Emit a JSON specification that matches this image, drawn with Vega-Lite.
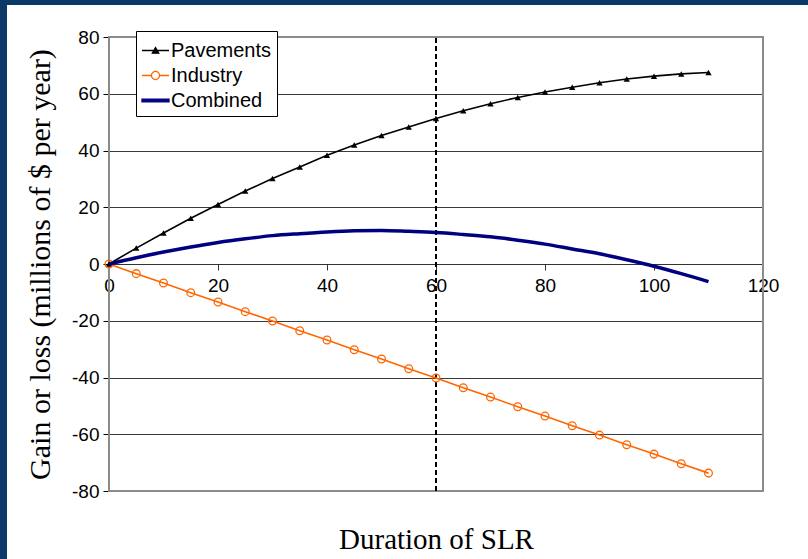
{
  "$schema": "https://vega.github.io/schema/vega-lite/v6.json",
  "width": 801,
  "height": 554,
  "autosize": {"type": "none"},
  "padding": {"left": 7, "top": 5, "right": 0, "bottom": 0},
  "background": "#0c3a68",
  "view": {"fill": "#ffffff", "stroke": null},
  "config": {
    "font": "Liberation Sans"
  },
  "data": {
    "values": [
      {"x": 0, "series": "Pavements", "value": 0},
      {"x": 5, "series": "Pavements", "value": 5.6},
      {"x": 10, "series": "Pavements", "value": 10.9},
      {"x": 15, "series": "Pavements", "value": 16.1},
      {"x": 20, "series": "Pavements", "value": 21},
      {"x": 25, "series": "Pavements", "value": 25.7},
      {"x": 30, "series": "Pavements", "value": 30.1},
      {"x": 35, "series": "Pavements", "value": 34.2},
      {"x": 40, "series": "Pavements", "value": 38.3},
      {"x": 45, "series": "Pavements", "value": 41.9},
      {"x": 50, "series": "Pavements", "value": 45.3},
      {"x": 55, "series": "Pavements", "value": 48.3},
      {"x": 60, "series": "Pavements", "value": 51.3},
      {"x": 65, "series": "Pavements", "value": 54},
      {"x": 70, "series": "Pavements", "value": 56.5},
      {"x": 75, "series": "Pavements", "value": 58.7},
      {"x": 80, "series": "Pavements", "value": 60.6},
      {"x": 85, "series": "Pavements", "value": 62.3},
      {"x": 90, "series": "Pavements", "value": 63.9},
      {"x": 95, "series": "Pavements", "value": 65.2},
      {"x": 100, "series": "Pavements", "value": 66.2},
      {"x": 105, "series": "Pavements", "value": 67},
      {"x": 110, "series": "Pavements", "value": 67.5},
      {"x": 0, "series": "Industry", "value": 0},
      {"x": 5, "series": "Industry", "value": -3.4},
      {"x": 10, "series": "Industry", "value": -6.7},
      {"x": 15, "series": "Industry", "value": -10.1},
      {"x": 20, "series": "Industry", "value": -13.4},
      {"x": 25, "series": "Industry", "value": -16.8},
      {"x": 30, "series": "Industry", "value": -20.1},
      {"x": 35, "series": "Industry", "value": -23.5},
      {"x": 40, "series": "Industry", "value": -26.8},
      {"x": 45, "series": "Industry", "value": -30.2},
      {"x": 50, "series": "Industry", "value": -33.5},
      {"x": 55, "series": "Industry", "value": -36.9},
      {"x": 60, "series": "Industry", "value": -40.2},
      {"x": 65, "series": "Industry", "value": -43.6},
      {"x": 70, "series": "Industry", "value": -46.9},
      {"x": 75, "series": "Industry", "value": -50.3},
      {"x": 80, "series": "Industry", "value": -53.6},
      {"x": 85, "series": "Industry", "value": -57},
      {"x": 90, "series": "Industry", "value": -60.3},
      {"x": 95, "series": "Industry", "value": -63.7},
      {"x": 100, "series": "Industry", "value": -67},
      {"x": 105, "series": "Industry", "value": -70.4},
      {"x": 110, "series": "Industry", "value": -73.7},
      {"x": 0, "series": "Combined", "value": 0},
      {"x": 5, "series": "Combined", "value": 2.2},
      {"x": 10, "series": "Combined", "value": 4.2},
      {"x": 15, "series": "Combined", "value": 6},
      {"x": 20, "series": "Combined", "value": 7.6},
      {"x": 25, "series": "Combined", "value": 8.9},
      {"x": 30, "series": "Combined", "value": 10},
      {"x": 35, "series": "Combined", "value": 10.7},
      {"x": 40, "series": "Combined", "value": 11.3},
      {"x": 45, "series": "Combined", "value": 11.7},
      {"x": 50, "series": "Combined", "value": 11.8},
      {"x": 55, "series": "Combined", "value": 11.5},
      {"x": 60, "series": "Combined", "value": 11.1},
      {"x": 65, "series": "Combined", "value": 10.4},
      {"x": 70, "series": "Combined", "value": 9.6},
      {"x": 75, "series": "Combined", "value": 8.4},
      {"x": 80, "series": "Combined", "value": 7},
      {"x": 85, "series": "Combined", "value": 5.3},
      {"x": 90, "series": "Combined", "value": 3.6},
      {"x": 95, "series": "Combined", "value": 1.5},
      {"x": 100, "series": "Combined", "value": -0.8},
      {"x": 105, "series": "Combined", "value": -3.4},
      {"x": 110, "series": "Combined", "value": -6.2}
    ]
  },
  "encoding": {
    "x": {
      "field": "x",
      "type": "quantitative",
      "scale": {"domain": [0, 120], "range": [102, 756], "nice": false, "zero": false},
      "axis": {
        "orient": "bottom",
        "offset": -295,
        "values": [0, 20, 40, 60, 80, 100, 120],
        "grid": false,
        "domainColor": "#333333",
        "domainWidth": 1,
        "tickColor": "#333333",
        "tickSize": 6,
        "labelFont": "Liberation Sans",
        "labelFontSize": 19,
        "labelColor": "#000000",
        "labelPadding": 6,
        "labelFlush": false,
        "labelOverlap": false,
        "title": "Duration of SLR",
        "titleFont": "Liberation Serif",
        "titleFontSize": 29,
        "titleFontWeight": "normal",
        "titleColor": "#000000",
        "titleX": 429,
        "titleY": 284,
        "titleAlign": "center",
        "titleBaseline": "alphabetic"
      }
    },
    "y": {
      "field": "value",
      "type": "quantitative",
      "scale": {"domain": [-80, 80], "range": [486, 32], "nice": false, "zero": false},
      "axis": {
        "orient": "left",
        "offset": -102,
        "values": [-80, -60, -40, -20, 0, 20, 40, 60, 80],
        "labelExpr": "datum.value < 0 ? '-' + abs(datum.value) : '' + datum.value",
        "grid": true,
        "gridColor": "#3a3a3a",
        "gridWidth": 1,
        "domainColor": "#000000",
        "domainWidth": 1,
        "tickColor": "#000000",
        "tickSize": 6,
        "labelFont": "Liberation Sans",
        "labelFontSize": 19,
        "labelColor": "#000000",
        "labelPadding": 4,
        "labelOverlap": false,
        "title": "Gain or loss (millions of $ per year)",
        "titleFont": "Liberation Serif",
        "titleFontSize": 30,
        "titleFontWeight": "normal",
        "titleColor": "#000000",
        "titleAngle": -90,
        "titleX": -69,
        "titleY": 259,
        "titleAlign": "center",
        "titleBaseline": "middle"
      }
    }
  },
  "layer": [
    {
      "mark": {"type": "rect", "fill": null, "stroke": "#8c8c8c", "strokeWidth": 1.2},
      "encoding": {
        "x": {"datum": 0},
        "x2": {"datum": 120},
        "y": {"datum": -80},
        "y2": {"datum": 80}
      }
    },
    {
      "mark": {"type": "rule", "color": "#000000", "strokeWidth": 1.5, "strokeDash": [5, 3]},
      "encoding": {
        "x": {"datum": 60},
        "y": {"datum": -80},
        "y2": {"datum": 80}
      }
    },
    {
      "transform": [{"filter": "datum.series === 'Pavements'"}],
      "mark": {"type": "line", "color": "#000000", "strokeWidth": 1.6},
      "encoding": {}
    },
    {
      "transform": [{"filter": "datum.series === 'Industry'"}],
      "mark": {"type": "line", "color": "#ff6600", "strokeWidth": 1.6},
      "encoding": {}
    },
    {
      "transform": [{"filter": "datum.series === 'Pavements'"}],
      "mark": {"type": "point", "shape": "triangle-up", "filled": true, "color": "#000000", "size": 40, "opacity": 1},
      "encoding": {}
    },
    {
      "transform": [{"filter": "datum.series === 'Industry'"}],
      "mark": {"type": "point", "shape": "circle", "filled": false, "color": "#ff6600", "fill": "#ffffff", "fillOpacity": 0, "size": 60, "strokeWidth": 1.3, "opacity": 1},
      "encoding": {}
    },
    {
      "transform": [{"filter": "datum.series === 'Combined'"}],
      "mark": {"type": "line", "color": "#000080", "strokeWidth": 3.5, "interpolate": "monotone"},
      "encoding": {}
    },
    {
      "mark": {"type": "point", "opacity": 0, "size": 10},
      "encoding": {
        "shape": {
          "field": "series",
          "type": "nominal",
          "scale": {
            "domain": ["Pavements", "Industry", "Combined"],
            "range": [
              "M-1,0H1M-0.24,0.2L0,-0.22L0.24,0.2Z",
              "M-1,0H-0.3M0.3,0H1M-0.3,0A0.3,0.3,0,1,1,0.3,0A0.3,0.3,0,1,1,-0.3,0Z",
              "M-1,-0.1H1V0.1H-1Z"
            ]
          },
          "legend": {
            "orient": "none",
            "legendX": 129,
            "legendY": 26,
            "title": null,
            "direction": "vertical",
            "fillColor": "#ffffff",
            "strokeColor": "#000000",
            "padding": 5,
            "rowPadding": 0,
            "symbolSize": 729,
            "symbolStrokeWidth": 1.3,
            "symbolOpacity": 1,
            "labelFont": "Liberation Sans",
            "labelFontSize": 20,
            "labelColor": "#000000",
            "labelOffset": 1,
            "labelLimit": 200
          }
        },
        "fill": {
          "field": "series",
          "type": "nominal",
          "scale": {"domain": ["Pavements", "Industry", "Combined"], "range": ["#000000", "#ffffff", "#000080"]}
        },
        "stroke": {
          "field": "series",
          "type": "nominal",
          "scale": {"domain": ["Pavements", "Industry", "Combined"], "range": ["#000000", "#ff6600", "#000080"]}
        }
      }
    }
  ]
}
